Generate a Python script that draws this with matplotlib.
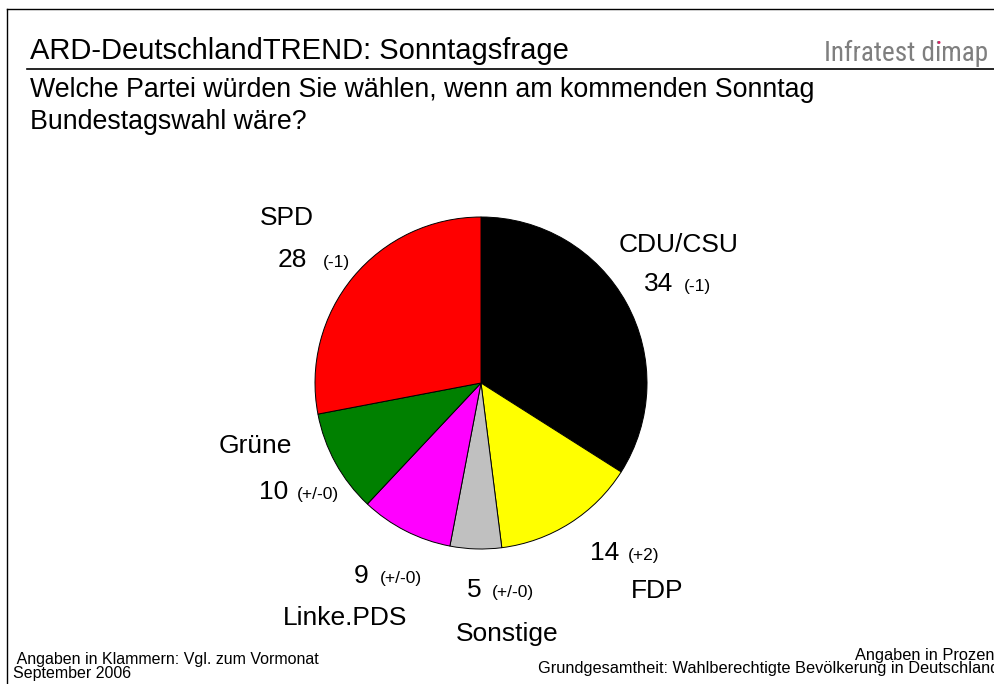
import os
import matplotlib
matplotlib.use("Agg")
import matplotlib.pyplot as plt
from matplotlib.lines import Line2D
from matplotlib.transforms import Bbox
from matplotlib import font_manager
from matplotlib.font_manager import FontProperties

plt.rcParams['font.family'] = ['Liberation Sans', 'DejaVu Sans']

# ---------------- data ----------------
parties = ["CDU/CSU", "FDP", "Sonstige", "Linke.PDS", "Grüne", "SPD"]
shares = [34, 14, 5, 9, 10, 28]
changes = ["(-1)", "(+2)", "(+/-0)", "(+/-0)", "(+/-0)", "(-1)"]
colors = ["#000000", "#FFFF00", "#C0C0C0", "#FF00FF", "#008000", "#FF0000"]

title = "ARD-DeutschlandTREND: Sonntagsfrage"
question = ["Welche Partei würden Sie wählen, wenn am kommenden Sonntag",
            "Bundestagswahl wäre?"]
brand = "Infratest dimap"
foot_left = [" Angaben in Klammern: Vgl. zum Vormonat", "September 2006"]
foot_right = ["Angaben in Prozent",
              "Grundgesamtheit: Wahlberechtigte Bevölkerung in Deutschland"]

# ---------------- layout (pixels) ----------------
W, H = 995, 684
# label layout: (name_x, name_baseline, value_x, value_baseline, change_x)
label_layout = {
    "SPD":       (260, 225, 278, 267, 323),
    "CDU/CSU":   (619, 252, 644, 291, 684),
    "Grüne":     (219, 453, 259, 499, 297),
    "Linke.PDS": (283, 625, 354, 583, 380),
    "Sonstige":  (456, 641, 467, 597, 492),
    "FDP":       (631, 598, 590, 560, 628),
}
cx, cy, r = 481, 383, 166

fig = plt.figure(figsize=(W / 100, H / 100), dpi=100)
fig.patch.set_facecolor("white")


def P(x, y):
    return (x / W, 1 - y / H)


def ftext(x, y, s, **kw):
    return fig.text(*P(x, y), s, transform=fig.transFigure, **kw)


# frame lines
fig.add_artist(Line2D([7 / W, 1], [1 - 9 / H, 1 - 9 / H], color="black", lw=1.0,
                      transform=fig.transFigure))
fig.add_artist(Line2D([7 / W, 7 / W], [0, 1 - 9 / H], color="black", lw=1.0,
                      transform=fig.transFigure))
fig.add_artist(Line2D([27 / W, 1], [1 - 69 / H, 1 - 69 / H], color="black", lw=1.2,
                      transform=fig.transFigure))

# header texts
ftext(30, 59, title, fontsize=21, ha="left", va="baseline", color="black")
ftext(30, 97, question[0], fontsize=19.3, ha="left", va="baseline")
ftext(30, 129, question[1], fontsize=19.3, ha="left", va="baseline")

# brand font: prefer a narrow / condensed sans face if one is installed
prefs = ["liberationsansnarrow", "robotocondensed", "roboto_condensed",
         "notosans-condensed", "notosanscondensed", "opensans-condensed",
         "opensanscondensed", "opensans_condensed", "dejavusanscondensed"]
best, best_rank = None, 99
for f in font_manager.fontManager.ttflist:
    fn = os.path.basename(f.fname).lower()
    if any(b in fn for b in ("bold", "italic", "oblique", "light", "black",
                             "medium", "thin", "semi", "extra", "mono", "serif")):
        continue
    for i, p in enumerate(prefs):
        if fn.startswith(p) and i < best_rank:
            best, best_rank = f.fname, i
if best is not None:
    bprop = FontProperties(fname=best)
else:
    bprop = FontProperties(family="Liberation Sans")

# size the brand so that it spans ~164 px, capped by cap height
fig.canvas.draw()
rend = fig.canvas.get_renderer()
bprop.set_size(20)
probe = fig.text(0, 0, brand, fontproperties=bprop)
w20 = probe.get_window_extent(rend).width
probe.remove()
bsize = 20 * 164.0 / w20
bsize = min(bsize, 22.0)
bprop.set_size(bsize)
bt = ftext(988, 61, brand, fontproperties=bprop, ha="right", va="baseline",
           color="#7F7F7F")

# footers
ftext(13, 664, foot_left[0], fontsize=11.5, ha="left", va="baseline")
ftext(13, 678, foot_left[1], fontsize=11.5, ha="left", va="baseline")
ftext(999, 660, foot_right[0], fontsize=11.8, ha="right", va="baseline")
ftext(999, 673, foot_right[1], fontsize=11.8, ha="right", va="baseline")

# pie
ax = fig.add_axes([(cx - r) / W, (H - cy - r) / H, 2 * r / W, 2 * r / H])
ax.pie(shares, colors=colors, startangle=90, counterclock=False, radius=1,
       wedgeprops=dict(edgecolor="black", linewidth=0.7))
ax.set_xlim(-1.0, 1.0)
ax.set_ylim(-1.0, 1.0)
ax.set_aspect("equal")
ax.axis("off")

for name, val, chg in zip(parties, shares, changes):
    nx, ny, vx, vy, chx = label_layout[name]
    ftext(nx, ny, name, fontsize=19, ha="left", va="baseline")
    ftext(vx, vy, str(val), fontsize=19, ha="left", va="baseline")
    ftext(chx, vy, chg, fontsize=12.5, ha="left", va="baseline")

# pink dot on the "i" of dimap
fig.canvas.draw()
rend = fig.canvas.get_renderer()
full = bt.get_window_extent(rend)
tmp = fig.text(0, 0, brand[:brand.index("dimap") + 1], fontproperties=bprop)
w_pre = tmp.get_window_extent(rend).width
tmp.remove()
em = bsize * 100 / 72
ix = full.x0 + w_pre
base_disp = H - 61
pink = fig.text(ix / W, base_disp / H, "i", fontproperties=bprop, ha="left",
                va="baseline", color="#D81B60", transform=fig.transFigure)
pink.set_clip_box(Bbox.from_extents(ix - 5, base_disp + 0.57 * em, ix + em * 0.5,
                                    base_disp + 1.0 * em))
pink.set_clip_on(True)

fig.savefig("out.png", dpi=100, facecolor="white")
